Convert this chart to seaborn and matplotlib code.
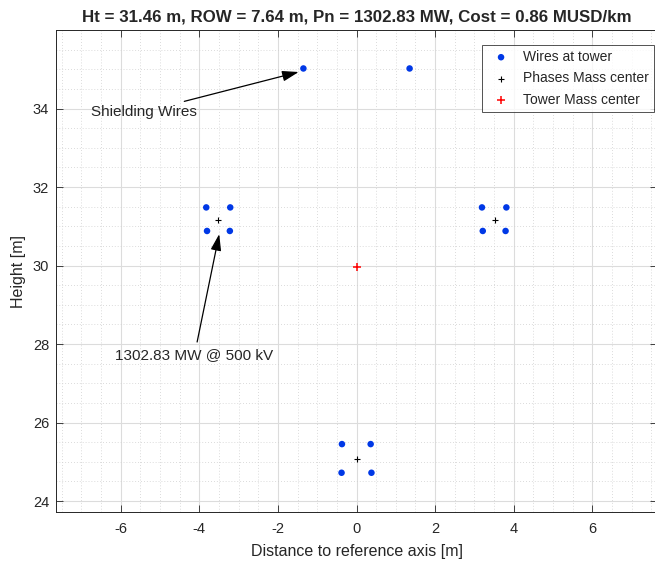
import numpy as np
import pandas as pd
import matplotlib
matplotlib.use("Agg")
import matplotlib.pyplot as plt
from matplotlib.ticker import MultipleLocator
import seaborn as sns

# ---------------------------------------------
# DATA
# ---------------------------------------------
TITLE = "Ht = 31.46 m, ROW = 7.64 m, Pn = 1302.83 MW, Cost = 0.86 MUSD/km"

wire_x = [-1.35, 1.35,
          -3.82, -3.21, -3.80, -3.22,
          3.19, 3.81, 3.21, 3.79,
          -0.37, 0.36, -0.38, 0.38]
wire_y = [35.02, 35.02,
          31.48, 31.48, 30.88, 30.88,
          31.48, 31.48, 30.88, 30.88,
          25.45, 25.45, 24.72, 24.72]

phase_cx = [-3.51, 3.51, 0.0]
phase_cy = [31.17, 31.17, 25.07]

tower_cx = [0.0]
tower_cy = [29.97]

row = 7.64
xticks = [-6, -4, -2, 0, 2, 4, 6]
yticks = [24, 26, 28, 30, 32, 34]

wires = pd.DataFrame({"x": wire_x, "y": wire_y})
phases = pd.DataFrame({"x": phase_cx, "y": phase_cy})
tower = pd.DataFrame({"x": tower_cx, "y": tower_cy})

# ---------------------------------------------
# STYLE
# ---------------------------------------------
sns.set_theme(style="ticks")
plt.rcParams["font.family"] = ["Liberation Sans", "DejaVu Sans"]
plt.rcParams["axes.unicode_minus"] = False

fig = plt.figure(figsize=(6.55, 5.65), dpi=100)
ax = fig.add_axes([56 / 655, 53 / 565, 601 / 655, 482 / 565])

sns.scatterplot(data=wires, x="x", y="y", ax=ax, color="#0038e6", s=22,
                edgecolor="none", label="Wires at tower", zorder=3)
sns.scatterplot(data=phases, x="x", y="y", ax=ax, color="black", marker="+",
                s=22, linewidth=0.8, label="Phases Mass center", zorder=3)
sns.scatterplot(data=tower, x="x", y="y", ax=ax, color="#ff0000", marker="+",
                s=40, linewidth=1.1, label="Tower Mass center", zorder=3)

ax.set_xlim(-row, row)
ax.set_ylim(min(wire_y) - 1, max(wire_y) + 0.98)
ax.set_xticks(xticks)
ax.set_yticks(yticks)
ax.xaxis.set_minor_locator(MultipleLocator(0.5))
ax.yaxis.set_minor_locator(MultipleLocator(0.5))

ax.grid(which="major", color="#dcdcdc", linewidth=0.8, linestyle="-")
ax.grid(which="minor", color="#cfcfcf", linewidth=0.6, linestyle=(0, (1, 2.5)))
ax.set_axisbelow(True)

ax.tick_params(which="both", direction="in", top=True, right=True,
               labelsize=10.5, colors="#262626", labelcolor="#262626")
ax.tick_params(which="major", length=5, width=0.6)
ax.tick_params(which="minor", length=0)
ax.tick_params(axis="x", which="major", pad=7)
ax.tick_params(axis="y", which="major", pad=5)
for sp in ax.spines.values():
    sp.set_color("#262626")
    sp.set_linewidth(0.7)

ax.set_xlabel("Distance to reference axis [m]", fontsize=11.5, color="#262626",
              labelpad=6)
ax.set_ylabel("Height [m]", fontsize=11.5, color="#262626", labelpad=5)
ax.set_title(TITLE, fontsize=12.2, fontweight="bold", pad=6)

# annotations
arrow = "-|>,head_length=0.5,head_width=0.16"
ax.annotate("Shielding Wires", xy=(-1.47, 34.93), xytext=(-4.05, 33.92),
            ha="right", va="center", fontsize=11,
            arrowprops=dict(arrowstyle=arrow, color="black", lw=0.9,
                            shrinkA=0, shrinkB=0, mutation_scale=20))
ax.annotate("1302.83 MW @ 500 kV", xy=(-3.49, 30.80), xytext=(-4.12, 27.72),
            ha="center", va="center", fontsize=11,
            arrowprops=dict(arrowstyle=arrow, color="black", lw=0.9,
                            shrinkA=2, shrinkB=0, mutation_scale=20))

leg = ax.legend(loc="upper right", bbox_to_anchor=(654 / 655, 1 - 45 / 565),
                bbox_transform=fig.transFigure, borderaxespad=0,
                fontsize=10, frameon=True, fancybox=False,
                edgecolor="#262626", handletextpad=0.6,
                labelspacing=0.55, borderpad=0.35, handlelength=2.0)
leg.get_frame().set_linewidth(0.7)

fig.savefig("out.png", dpi=100)
